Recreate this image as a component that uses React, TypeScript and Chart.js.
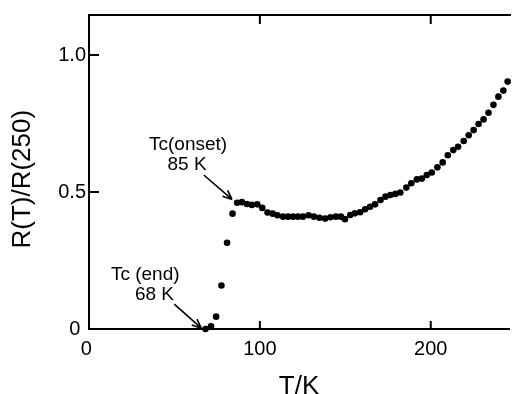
import React, { useEffect, useRef } from "react";
import { Chart, registerables } from "chart.js";

Chart.register(...registerables);

// Temperature (K) and normalised resistance R(T)/R(250)
const temperatureK = [
  68.2, 71.4, 74.4, 77.5, 80.8, 84.0, 86.7, 89.5, 92.4, 95.3, 98.5,
  101.4, 104.5, 107.5, 110.3, 113.6, 116.5, 119.4, 122.3, 125.2, 128.5,
  131.6, 134.9, 138.2, 141.3, 144.5, 147.4, 149.8, 152.9, 155.6, 158.7,
  161.6, 164.5, 167.4, 170.6, 173.5, 176.4, 179.3, 182.2, 185.7, 188.6,
  191.9, 194.8, 197.7, 200.6, 203.9, 207.0, 210.0, 213.2, 216.0, 219.3,
  222.2, 225.1, 228.0, 230.9, 233.8, 236.7, 239.6, 242.5, 245.0,
];
const resistanceRatio = [
  0.0, 0.01, 0.045, 0.159, 0.315, 0.421, 0.461, 0.463, 0.456, 0.453, 0.455,
  0.442, 0.425, 0.421, 0.415, 0.41, 0.41, 0.41, 0.41, 0.41, 0.415,
  0.41, 0.406, 0.403, 0.408, 0.41, 0.41, 0.401, 0.416, 0.422, 0.426,
  0.437, 0.446, 0.455, 0.471, 0.483, 0.489, 0.493, 0.498, 0.516, 0.532,
  0.546, 0.549, 0.562, 0.571, 0.59, 0.608, 0.634, 0.653, 0.665, 0.686,
  0.707, 0.726, 0.748, 0.765, 0.789, 0.818, 0.848, 0.87, 0.903,
];

const xTicks = [0, 100, 200];
const yTicks = [0, 0.5, 1.0];
const xMin = 0;
const xMax = 245.8;
const yMin = 0;
const yMax = 1.146;

// Annotation text lines and arrows (in data units)
const onsetLines = ["Tc(onset)", "85 K"];
const endLines = ["Tc (end)", "68 K"];
const annotations = [
  { lines: onsetLines, at: [[58, 0.672], [57.4, 0.599]], tail: [67.2, 0.562], tip: [83.7, 0.473] },
  { lines: endLines, at: [[32.9, 0.197], [38.3, 0.124]], tail: [49.9, 0.091], tip: [65.7, 0.003] },
];

const FONT = "'Liberation Sans', Arial, sans-serif";

const framePlugin = {
  id: "frame",
  afterDraw(chart: any) {
    const { ctx, chartArea, scales } = chart;
    const xs = scales.x;
    const ys = scales.y;
    ctx.save();
    ctx.strokeStyle = "#000";
    ctx.fillStyle = "#000";
    // top border
    ctx.lineWidth = 2;
    ctx.beginPath();
    ctx.moveTo(chartArea.left - 1, chartArea.top);
    ctx.lineTo(chartArea.right + 2, chartArea.top);
    ctx.stroke();
    // inward ticks
    ctx.lineWidth = 2;
    xTicks.forEach((v) => {
      if (v === 0) return;
      const px = xs.getPixelForValue(v);
      ctx.beginPath();
      ctx.moveTo(px, chartArea.bottom);
      ctx.lineTo(px, chartArea.bottom - 8);
      ctx.moveTo(px, chartArea.top);
      ctx.lineTo(px, chartArea.top + 9);
      ctx.stroke();
    });
    yTicks.forEach((v) => {
      if (v === 0) return;
      const py = ys.getPixelForValue(v);
      ctx.beginPath();
      ctx.moveTo(chartArea.left, py);
      ctx.lineTo(chartArea.left + 10, py);
      ctx.stroke();
    });
    // annotations
    ctx.font = `19px ${FONT}`;
    ctx.textAlign = "center";
    ctx.textBaseline = "middle";
    annotations.forEach((a) => {
      a.lines.forEach((t, i) => {
        ctx.fillText(t, xs.getPixelForValue(a.at[i][0]), ys.getPixelForValue(a.at[i][1]));
      });
      const x0 = xs.getPixelForValue(a.tail[0]);
      const y0 = ys.getPixelForValue(a.tail[1]);
      const x1 = xs.getPixelForValue(a.tip[0]);
      const y1 = ys.getPixelForValue(a.tip[1]);
      ctx.lineWidth = 1.6;
      ctx.beginPath();
      ctx.moveTo(x0, y0);
      ctx.lineTo(x1, y1);
      const ang = Math.atan2(y1 - y0, x1 - x0);
      const hl = 10;
      const spread = 0.4;
      ctx.moveTo(x1, y1);
      ctx.lineTo(x1 - hl * Math.cos(ang - spread), y1 - hl * Math.sin(ang - spread));
      ctx.moveTo(x1, y1);
      ctx.lineTo(x1 - hl * Math.cos(ang + spread), y1 - hl * Math.sin(ang + spread));
      ctx.stroke();
    });
    ctx.restore();
  },
};

export default function App() {
  const canvasRef = useRef<HTMLCanvasElement | null>(null);

  useEffect(() => {
    const canvas = canvasRef.current;
    if (!canvas) return;
    const data = temperatureK.map((t, i) => ({ x: t, y: resistanceRatio[i] }));
    const chart = new Chart(canvas, {
      type: "scatter",
      data: {
        datasets: [
          {
            data,
            pointRadius: 3.3,
            pointBackgroundColor: "#000",
            pointBorderColor: "#000",
            pointBorderWidth: 0,
            showLine: false,
            clip: false as any,
          },
        ],
      },
      options: {
        responsive: false,
        animation: false,
        devicePixelRatio: 1,
        events: [],
        layout: { padding: { top: 15, right: 0, left: 0, bottom: 0 } },
        plugins: { legend: { display: false }, tooltip: { enabled: false } },
        scales: {
          x: {
            type: "linear",
            min: xMin,
            max: xMax,
            afterFit: (s: any) => {
              s.height = 81;
            },
            afterBuildTicks: (axis: any) => {
              axis.ticks = xTicks.map((v) => ({ value: v }));
            },
            grid: { display: false, drawTicks: false },
            border: { display: true, color: "#000", width: 2 },
            ticks: {
              color: "#000",
              font: { family: FONT, size: 20 },
              padding: 8,
              maxRotation: 0,
              autoSkip: false,
              callback: (v: any) => (v === 0 ? "0 " : String(v)),
            },
            title: {
              display: true,
              text: "T/K",
              color: "#000",
              font: { family: FONT, size: 26 },
              padding: { top: 0, bottom: 8 },
            },
          },
          y: {
            type: "linear",
            min: yMin,
            max: yMax,
            afterFit: (s: any) => {
              s.width = 89;
            },
            afterBuildTicks: (axis: any) => {
              axis.ticks = yTicks.map((v) => ({ value: v }));
            },
            grid: { display: false, drawTicks: false },
            border: { display: true, color: "#000", width: 2 },
            ticks: {
              color: "#000",
              font: { family: FONT, size: 20 },
              padding: 3,
              autoSkip: false,
              callback: (v: any) => (v === 0 ? "0 " : Number(v).toFixed(1)),
            },
            title: {
              display: true,
              text: "R(T)/R(250)  ",
              color: "#000",
              font: { family: FONT, size: 26 },
              padding: { top: 7, bottom: 0 },
            },
          },
        },
      },
      plugins: [framePlugin],
    });
    return () => chart.destroy();
  }, []);

  return (
    <div
      style={{
        position: "fixed",
        left: 0,
        top: 0,
        width: 513,
        height: 394,
        overflow: "hidden",
        background: "#fff",
      }}
    >
      <canvas ref={canvasRef} width={513} height={410} style={{ display: "block" }} />
    </div>
  );
}
